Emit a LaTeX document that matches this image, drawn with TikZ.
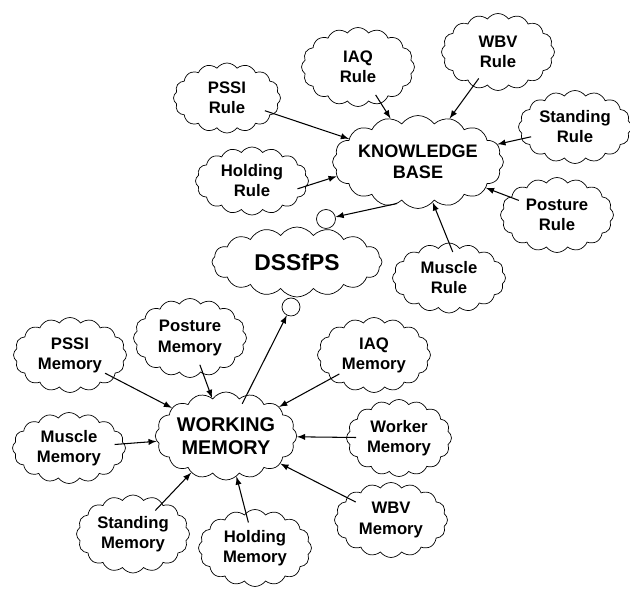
\documentclass[tikz,border=0pt]{standalone}
\usepackage{fontspec}
\setmainfont{Liberation Sans}
\usetikzlibrary{shapes,arrows}

\tikzset{
  bubble/.style={draw, cloud, cloud puffs=16, cloud puff arc=110, cloud ignores aspect, align=center, inner sep=0pt, minimum width=2.26cm, minimum height=1.5cm, font=\bfseries\fontsize{9.5}{11.4}\selectfont},
  bead/.style={draw, circle, inner sep=0pt, minimum size=0.38cm},
  link/.style={-latex, semithick, shorten <=-0.2cm}
}

\begin{document}
\begin{tikzpicture}[x=0.02cm, y=-0.02cm]
    \useasboundingbox (0,0) rectangle (630,590);

    \node[bubble, minimum width=2.78cm, minimum height=1.86cm, font=\bfseries\fontsize{10.3}{12.2}\selectfont] (kb) at (418,162) {KNOWLEDGE\\BASE};
    \node[bubble, minimum width=3.4cm, minimum height=1.4cm, font=\bfseries\fontsize{13}{15}\selectfont] (dss) at (297,262) {DSSfPS};
    \node[bubble, minimum width=2.76cm, minimum height=1.76cm, font=\bfseries\fontsize{11.3}{13}\selectfont] (wm) at (226,436) {WORKING\\MEMORY};

    \node[bead] (upbead) at (326,219) {};
    \node[bead, minimum size=0.36cm] (lowbead) at (291,307) {};

    \node[bubble, minimum width=2.14cm, minimum height=1.4cm] (pssirule) at (227,98) {PSSI\\Rule};
    \node[bubble, minimum height=1.58cm] (iaqrule) at (358,67) {IAQ\\Rule};
    \node[bubble, minimum height=1.54cm] (wbvrule) at (498,52) {WBV\\Rule};
    \node[bubble, minimum height=1.46cm] (standrule) at (575,127) {Standing\\Rule};
    \node[bubble, minimum height=1.36cm] (holdrule) at (252,181) {Holding\\Rule};
    \node[bubble] (posturerule) at (557,215) {Posture\\Rule};
    \node[bubble, minimum height=1.4cm] (musclerule) at (449,278) {Muscle\\Rule};

    \node[bubble] (pssimem) at (70,355) {PSSI\\Memory};
    \node[bubble, minimum height=1.58cm] (posturemem) at (190,338) {Posture\\Memory};
    \node[bubble] (iaqmem) at (374,355) {IAQ\\Memory};
    \node[bubble, minimum height=1.42cm] (musclemem) at (69,448) {Muscle\\Memory};
    \node[bubble, minimum width=2.1cm, minimum height=1.54cm] (workermem) at (399,438) {Worker\\Memory};
    \node[bubble, minimum height=1.56cm] (standmem) at (133,534) {Standing\\Memory};
    \node[bubble, minimum height=1.54cm] (holdmem) at (255,548) {Holding\\Memory};
    \node[bubble] (wbvmem) at (391,520) {WBV\\Memory};

    \foreach \src in {pssirule, iaqrule, wbvrule, standrule, posturerule}
        \draw[link] (\src) -- (kb);
    \draw[link] (holdrule.355) -- (kb.190);
    \draw[link] (musclerule.north) -- (kb.290);
    \foreach \src in {pssimem, posturemem, iaqmem, musclemem, workermem, standmem, holdmem, wbvmem}
        \draw[link] (\src) -- (wm);

    \draw[link] (kb.235) -- (upbead);
    \draw[link] (wm) -- (lowbead);
\end{tikzpicture}
\end{document}
